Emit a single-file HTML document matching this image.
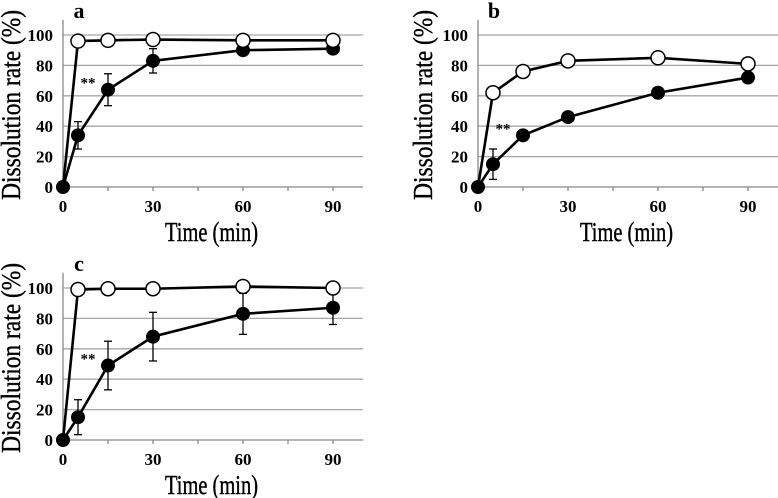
<!DOCTYPE html>
<html><head><meta charset="utf-8"><style>
body{margin:0;background:#fff;}
svg{display:block;font-family:"Liberation Serif",serif;}
</style></head><body>
<svg id="fig" width="778" height="498" viewBox="0 0 778 498"></svg>
<script>
const times = [0, 5, 15, 30, 60, 90];
const xTicks = [0, 30, 60, 90];
const yTicks = [0, 20, 40, 60, 80, 100];
const aOpen = [0, 96, 96.5, 97, 96.5, 96.5];
const aClosed = [0, 34, 64, 83, 90, 91];
const aErr = [0, 9, 10.5, 8, 1, 1];
const bOpen = [0, 62, 76, 83, 85, 81];
const bClosed = [0, 15, 34, 46, 62, 72];
const bErr = [0, 10, 1, 1, 1, 1];
const cOpen = [0, 99, 99.5, 99.5, 101, 100];
const cClosed = [0, 15, 49, 68, 83, 87];
const cErr = [0, 11.5, 16, 16, 13.5, 11];
const panelLabels = ['a', 'b', 'c'];

const NS = 'http://www.w3.org/2000/svg';
const svg = document.getElementById('fig');
function mk(tag, attrs, parent) {
  const e = document.createElementNS(NS, tag);
  for (const k in attrs) e.setAttribute(k, attrs[k]);
  (parent || svg).appendChild(e);
  return e;
}
function panel(ox, oy, label, open, closed, err, titleX) {
  const g = mk('g', {});
  
  
  const x0 = ox + 63, y0 = oy + 187, pxMin = 3, pxPct = 1.52;
  const X = t => x0 + t * pxMin;
  const Y = v => y0 - v * pxPct;
  const xEnd = X(100), yTop = Y(110);
  yTicks.forEach(v => {
    if (v > 0) {
      const l = mk('line', {x1: x0, x2: xEnd, y1: Y(v), y2: Y(v), stroke: '#a6a6a6', 'stroke-width': 1.3}, g);
      
      
    }
    const t = mk('text', {x: x0 - 10, y: Y(v) + 6, 'text-anchor': 'end', 'font-size': 17, 'font-weight': 'bold'}, g);
    t.textContent = v;
    
    
  });
  const ax = mk('line', {x1: x0, x2: x0, y1: yTop, y2: y0, stroke: '#888', 'stroke-width': 1.3}, g);
  
  
  const bx = mk('line', {x1: x0, x2: xEnd, y1: y0, y2: y0, stroke: '#888', 'stroke-width': 1.3}, g);
  
  
  for (let t = 15; t <= 90; t += 15) {
    mk('line', {x1: X(t), x2: X(t), y1: y0, y2: y0 + 4, stroke: '#888', 'stroke-width': 1.3}, g);
  }
  xTicks.forEach(t => {
    const tx = mk('text', {x: X(t), y: y0 + 25, 'text-anchor': 'middle', 'font-size': 17, 'font-weight': 'bold'}, g);
    tx.textContent = t;
    
    
  });
  const xt = mk('text', {x: X(49.5), y: y0 + 54, 'text-anchor': 'middle', 'font-size': 27, stroke: '#000', 'stroke-width': 0.4, textLength: 93, lengthAdjust: 'spacingAndGlyphs'}, g);
  xt.textContent = 'Time (min)';
  
  
  const yt = mk('text', {x: 0, y: 0, 'text-anchor': 'middle', 'font-size': 27, stroke: '#000', 'stroke-width': 0.4, textLength: 190, lengthAdjust: 'spacingAndGlyphs', transform: `translate(${ox + titleX},${Y(54)}) rotate(-90)`}, g);
  yt.textContent = 'Dissolution rate (%)';
  
  
  const pl = mk('text', {x: ox + 79, y: oy + 18, 'text-anchor': 'middle', 'font-size': 22, 'font-weight': 'bold'}, g);
  pl.textContent = label;
  
  
  times.forEach((t, i) => {
    if (err[i] > 2) {
      const hi = Y(closed[i] + err[i]), lo = Y(closed[i] - err[i]);
      mk('line', {x1: X(t), x2: X(t), y1: hi, y2: lo, stroke: '#000', 'stroke-width': 1.3}, g);
      mk('line', {x1: X(t) - 4, x2: X(t) + 4, y1: hi, y2: hi, stroke: '#000', 'stroke-width': 1.3}, g);
      mk('line', {x1: X(t) - 4, x2: X(t) + 4, y1: lo, y2: lo, stroke: '#000', 'stroke-width': 1.3}, g);
    }
  });
  const pts = arr => times.map((t, i) => X(t) + ',' + Y(arr[i])).join(' ');
  const lc = mk('polyline', {points: pts(closed), fill: 'none', stroke: '#000', 'stroke-width': 2.6}, g);
  
  
  const lo = mk('polyline', {points: pts(open), fill: 'none', stroke: '#000', 'stroke-width': 2.6}, g);
  
  
  times.forEach((t, i) => {
    const c = mk('circle', {cx: X(t), cy: Y(closed[i]), r: 7, fill: '#000'}, g);
    
    
    if (i > 0) {
      const o = mk('circle', {cx: X(t), cy: Y(open[i]), r: 7, fill: '#fff', stroke: '#000', 'stroke-width': 1.5}, g);
      
      
    }
  });
  const s = mk('text', {x: X(15) - 20, y: Y(closed[2]) - 2, 'text-anchor': 'middle', 'font-size': 15, 'font-weight': 'bold'}, g);
  s.textContent = '**';
  
  
}
panel(0, 0, panelLabels[0], aOpen, aClosed, aErr, 20);
panel(415, 0, panelLabels[1], bOpen, bClosed, bErr, 17);
panel(0, 253, panelLabels[2], cOpen, cClosed, cErr, 20);
</script>
</body></html>
